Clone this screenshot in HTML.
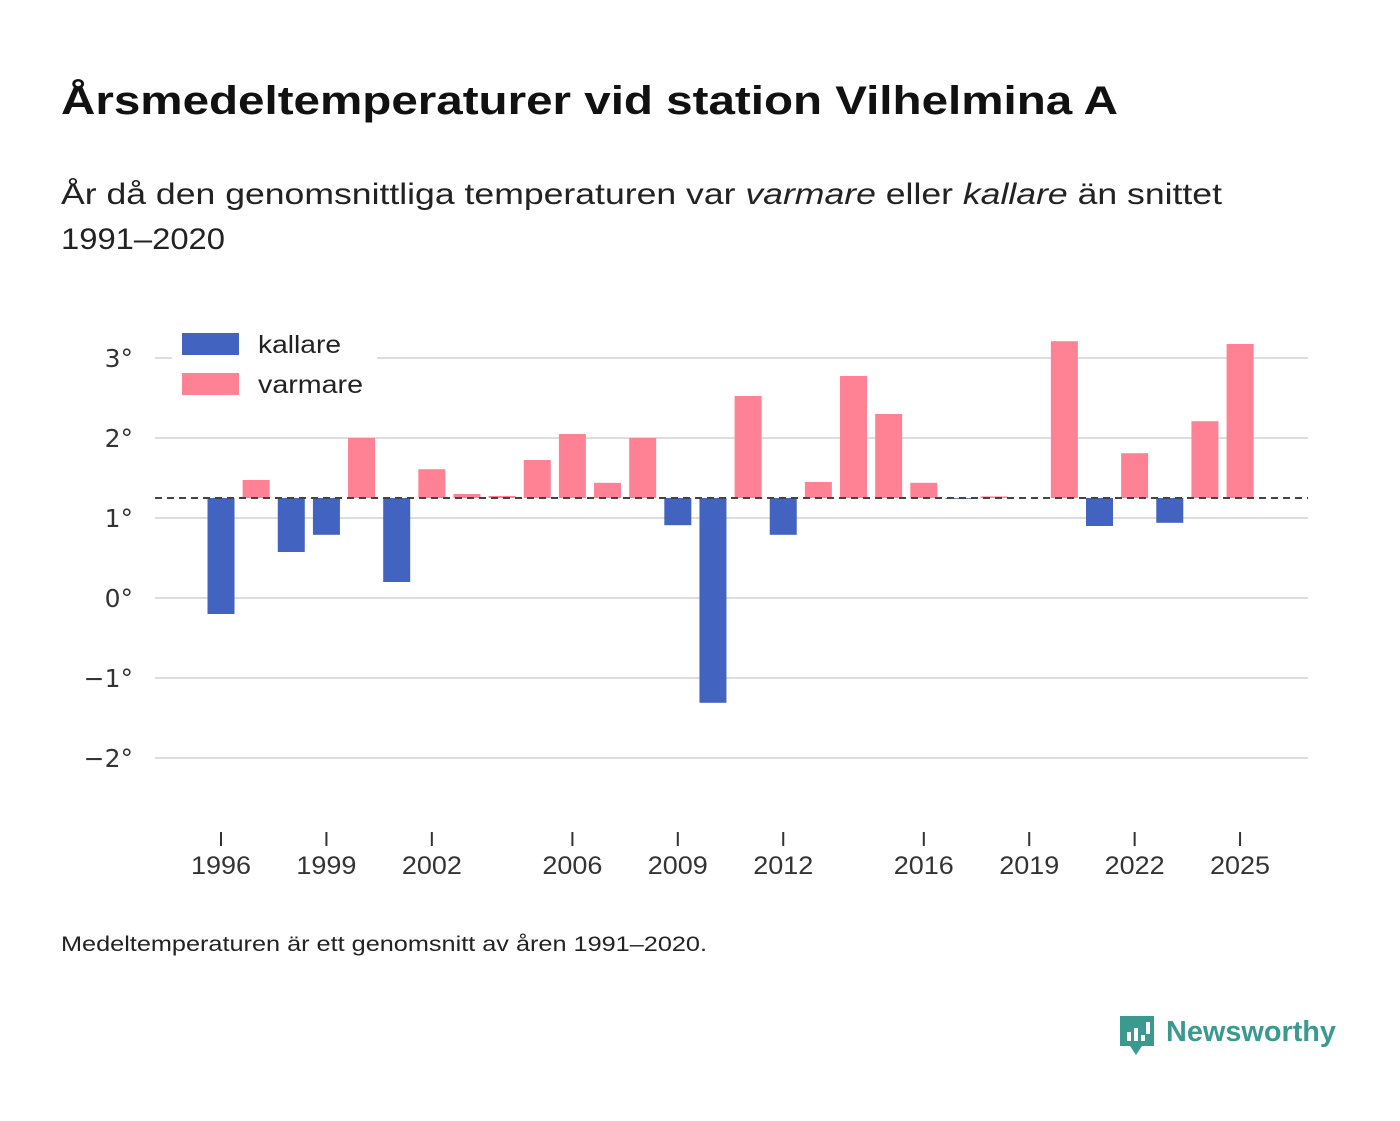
<!DOCTYPE html>
<html><head><meta charset="utf-8">
<style>
body{margin:0;width:1400px;height:1116px;background:#fff;font-family:"Liberation Sans","DejaVu Sans",sans-serif;overflow:hidden}
</style></head>
<body>
<svg width="1400" height="1116" xmlns="http://www.w3.org/2000/svg">
<text x="61" y="114" font-size="40" font-weight="bold" fill="#111" textLength="1057" lengthAdjust="spacingAndGlyphs">Årsmedeltemperaturer vid station Vilhelmina A</text>
<text x="61" y="204" font-size="30" fill="#222" textLength="1161" lengthAdjust="spacingAndGlyphs">År då den genomsnittliga temperaturen var <tspan font-style="italic">varmare</tspan> eller <tspan font-style="italic">kallare</tspan> än snittet</text>
<text x="61" y="249" font-size="30" fill="#222" textLength="164" lengthAdjust="spacingAndGlyphs">1991–2020</text>
<g id="grid"></g>
<g id="bars"></g>
<g id="xaxis"></g>
<line x1="155" x2="1308" y1="498" y2="498" stroke="#444" stroke-width="2" stroke-dasharray="7,5"/>
<rect x="172" y="322" width="205" height="86" fill="#fff"/>
<rect x="182" y="333" width="57" height="22" fill="#4263c0"/>
<text x="258" y="353" font-size="25" fill="#222" textLength="83" lengthAdjust="spacingAndGlyphs">kallare</text>
<rect x="182" y="373" width="57" height="22" fill="#ff8294"/>
<text x="258" y="393" font-size="25" fill="#222" textLength="105" lengthAdjust="spacingAndGlyphs">varmare</text>
<text x="61" y="951" font-size="21" fill="#222" textLength="646" lengthAdjust="spacingAndGlyphs">Medeltemperaturen är ett genomsnitt av åren 1991–2020.</text>
<g>
<path d="M1120 1016 h34 v30 h-12 l-6 9 l-6 -9 h-10 z" fill="#3a9a8f"/>
<rect x="1127" y="1032" width="4" height="9" fill="#fff"/><rect x="1134" y="1028" width="4" height="13" fill="#fff"/><rect x="1141" y="1035" width="4" height="6" fill="#fff"/><rect x="1146" y="1022" width="4" height="12" fill="#fff"/>
<text x="1166" y="1041" font-size="29" font-weight="bold" fill="#3a9a8f" textLength="170" lengthAdjust="spacingAndGlyphs">Newsworthy</text>
</g>
</svg>
<script>
const years=[1996,1997,1998,1999,2000,2001,2002,2003,2004,2005,2006,2007,2008,2009,2010,2011,2012,2013,2014,2015,2016,2017,2018,2019,2020,2021,2022,2023,2024,2025];
const temps=[-0.2,1.475,0.575,0.79,2.0,0.2,1.61,1.3,1.275,1.725,2.05,1.44,2.0,0.91,-1.31,2.525,0.79,1.45,2.775,2.3,1.44,1.24,1.27,1.25,3.21,0.9,1.81,0.94,2.21,3.175];
const baseline=1.25;
const yTicks=[3,2,1,0,-1,-2];
const xTicks=[1996,1999,2002,2006,2009,2012,2016,2019,2022,2025];
const NS="http://www.w3.org/2000/svg";
const y=v=>598-v*80;
const x=yr=>221+(yr-1996)*35.14;
function mk(t,a,p){const e=document.createElementNS(NS,t);for(const k in a)e.setAttribute(k,a[k]);p.appendChild(e);return e;}
const grid=document.getElementById('grid'),bars=document.getElementById('bars'),xa=document.getElementById('xaxis');
yTicks.forEach(v=>{
 const l=mk('line',{x1:155,x2:1308,y1:y(v),y2:y(v),stroke:'#ddd','stroke-width':2},grid);
 
 
 const t=mk('text',{x:133,y:y(v)+9,'font-size':25,fill:'#333','text-anchor':'end','font-family':'DejaVu Sans, sans-serif'},grid);
 t.textContent=(v<0?'−'+(-v):v)+'°';
 
 
});
years.forEach((yr,i)=>{
 const v=temps[i];const a=y(v),b=y(baseline);
 const r=mk('rect',{x:x(yr)-13.5,y:Math.min(a,b),width:27,height:Math.abs(a-b),fill:v<baseline?'#4263c0':'#ff8294'},bars);
 
 
});
xTicks.forEach(yr=>{
 const l=mk('line',{x1:x(yr),x2:x(yr),y1:832,y2:846,stroke:'#333','stroke-width':2},xa);
 
 
 const t=mk('text',{x:x(yr),y:874,'font-size':25,fill:'#333','text-anchor':'middle',textLength:60,lengthAdjust:'spacingAndGlyphs'},xa);
 t.textContent=yr;
 
 
});
</script>
</body></html>
